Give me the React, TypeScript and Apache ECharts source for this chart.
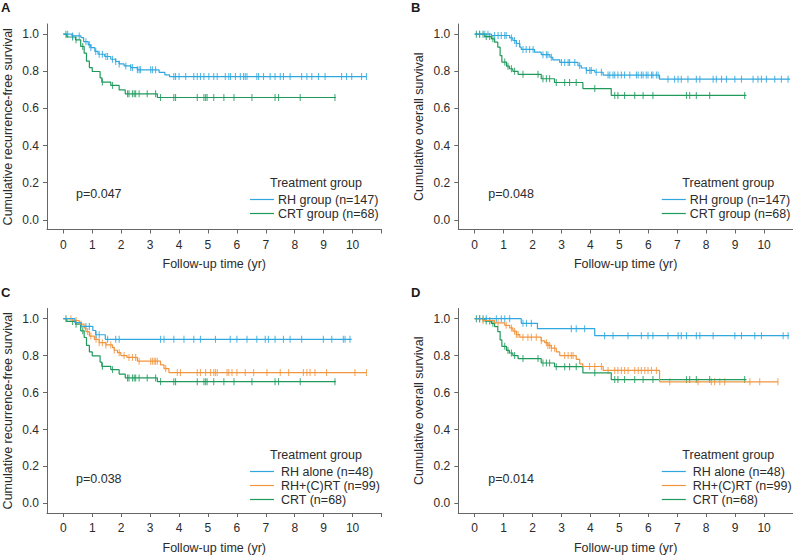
import React, { useEffect, useRef } from "react";
import * as echarts from "echarts";

// ---------- axis ticks ----------
const X_TICKS = [0, 1, 2, 3, 4, 5, 6, 7, 8, 9, 10, 11];
const X_LABELS = [0, 1, 2, 3, 4, 5, 6, 7, 8, 9, 10];
const Y_TICKS = [0, 0.2, 0.4, 0.6, 0.8, 1.0];

// ---------- A: recurrence-free survival, RH group vs CRT group ----------
const RH_RFS_T = [0, 0.3, 0.61, 0.7, 0.86, 0.95, 1.09, 1.2, 1.43, 1.64, 1.81, 1.93, 2.1, 2.33, 2.56, 3.31, 3.51, 3.67, 10.48];
const RH_RFS_S = [1.0, 0.991, 0.982, 0.96, 0.943, 0.928, 0.907, 0.892, 0.88, 0.865, 0.853, 0.84, 0.829, 0.82, 0.808, 0.794, 0.781, 0.772, 0.772];
const RH_RFS_C = [0.15, 0.32, 0.55, 0.78, 0.9, 0.95, 1.12, 1.24, 1.35, 1.47, 1.53, 1.7, 1.81, 1.93, 2.16, 2.33, 2.39, 2.56, 2.62, 2.67, 3.02, 3.08, 3.19, 3.82, 3.88, 4.0, 4.23, 4.51, 4.63, 4.74, 4.86, 5.03, 5.2, 5.32, 5.6, 5.72, 5.78, 5.95, 6.12, 6.23, 6.29, 6.35, 6.69, 6.75, 6.92, 7.15, 7.32, 7.5, 7.61, 7.84, 8.24, 8.42, 8.59, 8.82, 9.05, 9.62, 9.79, 9.97, 10.31, 10.48];

const CRT_RFS_T = [0, 0.12, 0.42, 0.6, 0.72, 0.8, 0.9, 1.0, 1.27, 1.33, 1.64, 1.93, 2.14, 3.25, 9.42];
const CRT_RFS_S = [1.0, 0.985, 0.97, 0.934, 0.898, 0.855, 0.82, 0.799, 0.765, 0.742, 0.724, 0.7, 0.679, 0.659, 0.659];
const CRT_RFS_C = [0.09, 0.32, 0.44, 0.67, 1.35, 1.7, 2.22, 2.27, 2.39, 2.45, 2.5, 2.62, 2.9, 3.19, 3.36, 3.82, 3.88, 4.63, 4.86, 4.92, 4.97, 5.2, 5.55, 5.9, 6.52, 7.32, 7.44, 8.19, 9.39];

// ---------- B: overall survival, RH group vs CRT group ----------
const RH_OS_T = [0, 0.58, 1.21, 1.32, 1.44, 1.56, 1.61, 2.07, 2.3, 2.6, 2.7, 2.94, 3.57, 3.69, 3.86, 4.15, 4.44, 6.39, 10.9];
const RH_OS_S = [1.0, 0.993, 0.98, 0.966, 0.95, 0.93, 0.918, 0.903, 0.89, 0.876, 0.862, 0.848, 0.83, 0.818, 0.805, 0.795, 0.78, 0.758, 0.758];
const RH_OS_C = [0.17, 0.35, 0.46, 0.69, 0.81, 0.92, 1.04, 1.09, 1.27, 1.38, 1.44, 1.55, 1.67, 1.78, 1.9, 2.02, 2.36, 2.48, 2.53, 2.65, 3.0, 3.11, 3.23, 3.28, 3.46, 3.63, 3.86, 3.98, 4.03, 4.2, 4.38, 4.61, 4.67, 4.78, 4.84, 4.95, 5.07, 5.18, 5.36, 5.59, 5.65, 5.76, 5.82, 5.93, 5.99, 6.11, 6.16, 6.28, 6.34, 6.68, 6.91, 7.03, 7.14, 7.37, 7.66, 7.78, 8.24, 8.35, 8.53, 8.7, 8.99, 9.22, 9.62, 9.79, 9.91, 10.08, 10.37, 10.6, 10.83];

const CRT_OS_T = [0, 0.35, 0.58, 0.69, 0.8, 0.88, 0.94, 1.1, 1.2, 1.32, 1.5, 2.3, 2.76, 3.74, 4.72, 9.39];
const CRT_OS_S = [1.0, 0.987, 0.975, 0.957, 0.93, 0.885, 0.85, 0.828, 0.814, 0.8, 0.784, 0.76, 0.74, 0.707, 0.67, 0.67];
const CRT_OS_C = [0.06, 0.17, 0.29, 0.4, 0.52, 0.63, 1.04, 1.15, 1.27, 1.38, 1.67, 2.19, 2.36, 2.48, 2.59, 2.82, 3.11, 3.28, 3.51, 4.15, 4.84, 4.95, 5.18, 5.53, 5.82, 6.16, 7.32, 7.43, 7.66, 8.12, 9.33];

// ---------- C: recurrence-free survival, three groups ----------
const RHA_RFS_T = [0, 0.4, 0.62, 1.02, 1.12, 1.45, 9.97];
const RHA_RFS_S = [1.0, 0.979, 0.958, 0.936, 0.913, 0.888, 0.888];
const RHA_RFS_C = [0.78, 0.9, 1.13, 1.24, 1.53, 1.81, 1.93, 3.36, 3.48, 3.82, 4.17, 4.51, 4.74, 5.26, 5.77, 6.0, 6.35, 6.69, 6.98, 7.09, 7.32, 7.61, 7.84, 8.24, 8.99, 9.28, 9.68, 9.74, 9.91];

const RHC_RFS_T = [0, 0.32, 0.55, 0.72, 0.78, 0.9, 1.07, 1.24, 1.47, 1.7, 1.76, 1.87, 1.99, 2.2, 2.56, 3.36, 3.48, 3.65, 10.48];
const RHC_RFS_S = [1.0, 0.99, 0.97, 0.95, 0.93, 0.906, 0.888, 0.87, 0.858, 0.843, 0.829, 0.816, 0.8, 0.79, 0.77, 0.75, 0.73, 0.708, 0.708];
const RHC_RFS_C = [0.26, 0.44, 0.61, 0.84, 0.95, 1.13, 1.24, 1.35, 1.47, 1.64, 1.76, 1.93, 2.1, 2.27, 2.39, 2.5, 2.62, 3.02, 3.08, 3.14, 3.19, 3.25, 3.54, 3.94, 4.05, 4.63, 4.74, 4.92, 5.09, 5.2, 5.26, 5.32, 5.66, 5.72, 5.83, 6.0, 6.29, 6.58, 7.04, 7.5, 7.79, 8.3, 8.42, 8.53, 8.7, 9.1, 10.08, 10.48];

// ---------- D: overall survival, three groups ----------
const RHA_OS_T = [0, 1.61, 2.17, 4.15, 10.86];
const RHA_OS_S = [1.0, 0.975, 0.946, 0.908, 0.908];
const RHA_OS_C = [0.17, 0.4, 0.75, 0.92, 1.04, 1.21, 1.67, 1.79, 1.96, 3.34, 3.51, 3.8, 4.49, 4.78, 5.3, 5.76, 5.99, 6.16, 6.68, 7.03, 7.14, 7.32, 7.66, 7.78, 8.24, 8.99, 9.22, 9.68, 9.91, 10.66, 10.83];

const RHC_OS_T = [0, 0.29, 0.69, 1.04, 1.21, 1.32, 1.44, 1.56, 2.3, 2.42, 2.53, 2.65, 2.82, 2.94, 3.51, 3.63, 3.74, 4.44, 6.39, 10.48];
const RHC_OS_S = [1.0, 0.99, 0.977, 0.964, 0.95, 0.932, 0.914, 0.9, 0.88, 0.87, 0.855, 0.84, 0.82, 0.8, 0.78, 0.755, 0.741, 0.72, 0.658, 0.658];
const RHC_OS_C = [0.17, 0.29, 0.52, 0.81, 1.09, 1.27, 1.38, 1.44, 1.5, 1.67, 1.84, 1.96, 2.13, 2.3, 2.48, 2.53, 2.59, 2.65, 2.76, 3.11, 3.23, 3.34, 3.4, 3.97, 4.15, 4.38, 4.61, 4.84, 4.95, 5.07, 5.18, 5.3, 5.53, 5.65, 5.76, 5.88, 5.99, 6.11, 6.28, 6.74, 7.72, 8.18, 8.29, 8.47, 8.64, 9.51, 9.85, 10.48];

// ---------- texts ----------
const PANEL_LETTERS = ["A", "B", "C", "D"];
const Y_TITLES = [
  "Cumulative recurrence-free survival",
  "Cumulative overall survival",
  "Cumulative recurrence-free survival",
  "Cumulative overall survival",
];
const X_TITLE = "Follow-up time (yr)";
const P_VALUES = ["p=0.047", "p=0.048", "p=0.038", "p=0.014"];
const LEGEND_TITLE = "Treatment group";
const LEGEND_2 = ["RH group (n=147)", "CRT group (n=68)"];
const LEGEND_3 = ["RH alone (n=48)", "RH+(C)RT (n=99)", "CRT (n=68)"];

const BLUE = "#2fa7df";
const GREEN = "#1f9a5c";
const ORANGE = "#f2953f";
const FONT = "Liberation Sans, Arial, Helvetica, sans-serif";
const TXT = "#2b2b2b";
const AXIS = "#666666";

type Curve = { name: string; t: number[]; s: number[]; c: number[]; color: string };

const PANELS: { curves: Curve[]; legend: string[] }[] = [
  {
    curves: [
      { name: LEGEND_2[1], t: CRT_RFS_T, s: CRT_RFS_S, c: CRT_RFS_C, color: GREEN },
      { name: LEGEND_2[0], t: RH_RFS_T, s: RH_RFS_S, c: RH_RFS_C, color: BLUE },
    ],
    legend: LEGEND_2,
  },
  {
    curves: [
      { name: LEGEND_2[1], t: CRT_OS_T, s: CRT_OS_S, c: CRT_OS_C, color: GREEN },
      { name: LEGEND_2[0], t: RH_OS_T, s: RH_OS_S, c: RH_OS_C, color: BLUE },
    ],
    legend: LEGEND_2,
  },
  {
    curves: [
      { name: LEGEND_3[2], t: CRT_RFS_T, s: CRT_RFS_S, c: CRT_RFS_C, color: GREEN },
      { name: LEGEND_3[1], t: RHC_RFS_T, s: RHC_RFS_S, c: RHC_RFS_C, color: ORANGE },
      { name: LEGEND_3[0], t: RHA_RFS_T, s: RHA_RFS_S, c: RHA_RFS_C, color: BLUE },
    ],
    legend: LEGEND_3,
  },
  {
    curves: [
      { name: LEGEND_3[2], t: CRT_OS_T, s: CRT_OS_S, c: CRT_OS_C, color: GREEN },
      { name: LEGEND_3[1], t: RHC_OS_T, s: RHC_OS_S, c: RHC_OS_C, color: ORANGE },
      { name: LEGEND_3[0], t: RHA_OS_T, s: RHA_OS_S, c: RHA_OS_C, color: BLUE },
    ],
    legend: LEGEND_3,
  },
];

function survAt(t: number[], s: number[], x: number): number {
  let v = s[0];
  for (let i = 0; i < t.length; i++) if (t[i] <= x) v = s[i];
  return v;
}

// layout (pixels)
const GRID_LEFT = [46, 458.3, 46, 458.3];
const GRID_TOP = [24, 24, 308.5, 308.5];
const GRID_W = 335.5;
const GRID_H = 205.5;
const X_MIN = -0.565;
const X_MAX = 11;
const Y_MIN = -0.052;
const Y_MAX = 1.055;

function buildOption() {
  const grid: any[] = [];
  const xAxis: any[] = [];
  const yAxis: any[] = [];
  const series: any[] = [];
  const graphic: any[] = [];
  const legendColors2 = [BLUE, GREEN];
  const legendColors3 = [BLUE, ORANGE, GREEN];

  PANELS.forEach((p, i) => {
    grid.push({ left: GRID_LEFT[i], top: GRID_TOP[i], width: GRID_W, height: GRID_H, containLabel: false });
    xAxis.push({
      type: "value",
      gridIndex: i,
      min: X_MIN,
      max: X_MAX,
      name: X_TITLE,
      nameLocation: "middle",
      nameGap: 28,
      nameTextStyle: { fontFamily: FONT, fontSize: 12.5, color: TXT },
      axisLine: { show: true, onZero: false, lineStyle: { color: AXIS, width: 1 } },
      axisTick: { show: true, length: 4, lineStyle: { color: AXIS }, customValues: X_TICKS },
      axisLabel: {
        customValues: X_LABELS,
        margin: 9,
        fontFamily: FONT,
        fontSize: 12,
        color: TXT,
        formatter: (v: number) => String(Math.round(v)),
      },
      splitLine: { show: false },
    });
    yAxis.push({
      type: "value",
      gridIndex: i,
      min: Y_MIN,
      max: Y_MAX,
      name: Y_TITLES[i],
      nameLocation: "middle",
      nameGap: 33,
      nameTextStyle: { fontFamily: FONT, fontSize: 12.5, color: TXT },
      axisLine: { show: true, onZero: false, lineStyle: { color: AXIS, width: 1 } },
      axisTick: { show: true, length: 4, lineStyle: { color: AXIS }, customValues: Y_TICKS },
      axisLabel: {
        customValues: Y_TICKS,
        margin: 8,
        fontFamily: FONT,
        fontSize: 12,
        color: TXT,
        formatter: (v: number) => v.toFixed(1),
      },
      splitLine: { show: false },
    });

    p.curves.forEach((c) => {
      series.push({
        type: "line",
        name: c.name,
        xAxisIndex: i,
        yAxisIndex: i,
        step: "end",
        showSymbol: false,
        symbol: "none",
        lineStyle: { color: c.color, width: 1.2 },
        itemStyle: { color: c.color },
        data: c.t.map((x, k) => [x, c.s[k]]),
        silent: true,
      });
      series.push({
        type: "scatter",
        name: c.name + " censored",
        xAxisIndex: i,
        yAxisIndex: i,
        symbol: "rect",
        symbolSize: [1.1, 7],
        itemStyle: { color: c.color },
        data: c.c.map((x) => [x, survAt(c.t, c.s, x)]),
        silent: true,
      });
    });

    const gx = GRID_LEFT[i];
    const gy = GRID_TOP[i];
    // panel letter
    graphic.push({
      type: "text",
      left: i % 2 === 0 ? 1 : 411,
      top: i < 2 ? 1 : 286,
      style: { text: PANEL_LETTERS[i], font: `bold 13px ${FONT}`, fill: "#1a1a1a" },
    });
    // p-value
    graphic.push({
      type: "text",
      x: gx + 30,
      y: gy + 170,
      style: { text: P_VALUES[i], font: `12.5px ${FONT}`, fill: TXT, verticalAlign: "middle" },
    });
    // legend
    const three = p.legend.length === 3;
    const titleY = gy + (three ? 146.5 : 159);
    const lineX0 = gx + (i % 2 === 0 ? 204 : 203.5);
    const lineX1 = lineX0 + 24;
    const labelX = lineX1 + (three ? 7 : 4);
    graphic.push({
      type: "text",
      x: gx + 270,
      y: titleY,
      style: { text: LEGEND_TITLE, font: `12.5px ${FONT}`, fill: TXT, align: "center", verticalAlign: "middle" },
    });
    const colors = three ? legendColors3 : legendColors2;
    p.legend.forEach((lab, k) => {
      const ly = titleY + 16.5 + k * 14;
      graphic.push({
        type: "line",
        shape: { x1: lineX0, y1: ly, x2: lineX1, y2: ly },
        style: { stroke: colors[k], lineWidth: 1.2 },
      });
      graphic.push({
        type: "text",
        x: labelX,
        y: ly,
        style: { text: lab, font: `12.5px ${FONT}`, fill: TXT, verticalAlign: "middle" },
      });
    });
  });

  return {
    animation: false,
    backgroundColor: "#ffffff",
    textStyle: { fontFamily: FONT },
    grid,
    xAxis,
    yAxis,
    series,
    graphic,
  };
}

export default function App() {
  const ref = useRef<HTMLDivElement>(null);
  useEffect(() => {
    if (!ref.current) return;
    const chart = echarts.init(ref.current, undefined, { renderer: "svg" });
    chart.setOption(buildOption() as any);
    return () => chart.dispose();
  }, []);
  return (
    <div
      ref={ref}
      style={{ position: "fixed", left: 0, top: 0, width: 793, height: 555, background: "#fff" }}
    />
  );
}
